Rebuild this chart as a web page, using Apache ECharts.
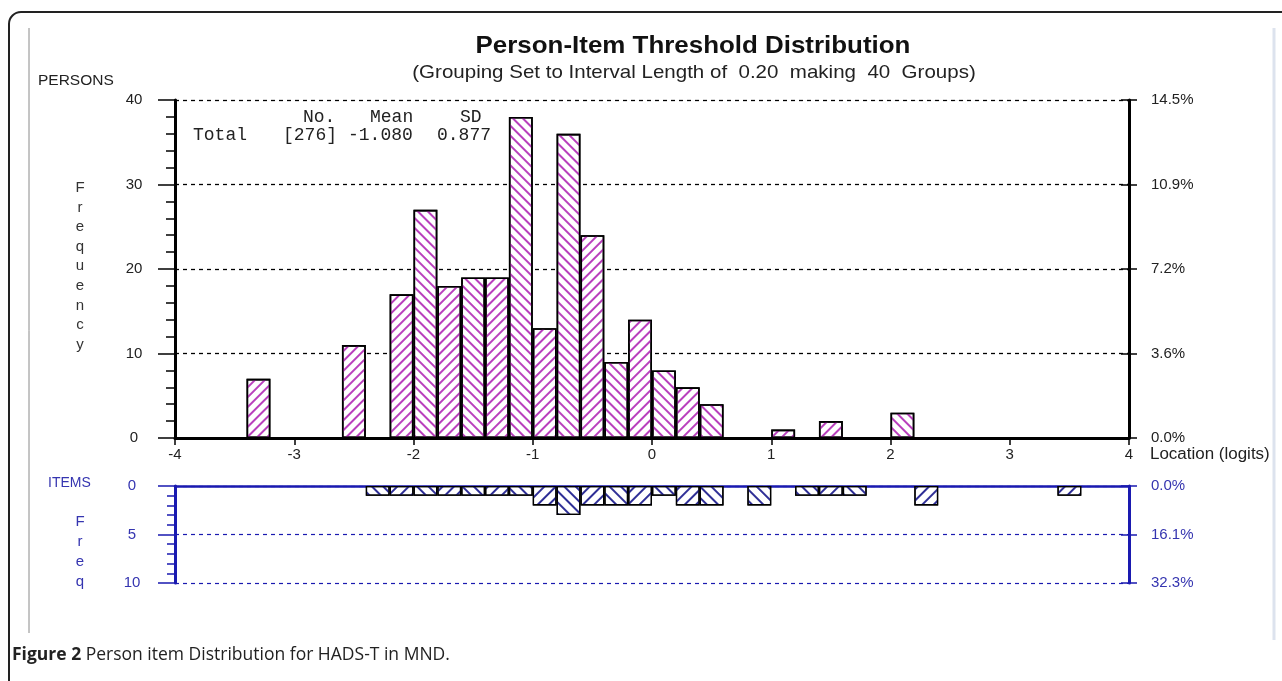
<!DOCTYPE html>
<html><head><meta charset="utf-8">
<script src="https://cdn.jsdelivr.net/npm/echarts@6/dist/echarts.min.js"></script>
<style>html,body{margin:0;padding:0;background:#fff}#c{width:1282px;height:681px}</style>
</head><body><div id="c"></div>
<script>
// 40 bins of width 0.2 logits, labelled by their lower edge
const bins = ['-4.0','-3.8','-3.6','-3.4','-3.2','-3.0','-2.8','-2.6','-2.4','-2.2',
              '-2.0','-1.8','-1.6','-1.4','-1.2','-1.0','-0.8','-0.6','-0.4','-0.2',
              '0.0','0.2','0.4','0.6','0.8','1.0','1.2','1.4','1.6','1.8',
              '2.0','2.2','2.4','2.6','2.8','3.0','3.2','3.4','3.6','3.8'];
const personsFreq = [0,0,0,7,0,0,0,11,0,17,
                     27,18,19,19,38,13,36,24,9,14,
                     8,6,4,0,0,1,0,2,0,0,
                     3,0,0,0,0,0,0,0,0,0];
const itemsFreq = [0,0,0,0,0,0,0,0,1,1,
                   1,1,1,1,1,2,3,2,2,2,
                   1,2,2,0,2,0,1,1,1,0,
                   0,2,0,0,0,0,0,1,0,0];
const xTicks = [-4,-3,-2,-1,0,1,2,3,4];
const personsTicks = [0,10,20,30,40];
const personsPct = ['0.0%','3.6%','7.2%','10.9%','14.5%'];
const itemsTicks = [0,5,10];
const itemsPct = ['0.0%','16.1%','32.3%'];
const statsHead = ['No.','Mean','SD'];
const statsRow = ['Total','[276]','-1.080','0.877'];

const MAG = '#b940bd';
const NAVY = '#2e2e96';
const BLUE = '#1a1ab0';
const BLUE_TXT = '#3535b0';

function hatch(color, i, w, gap) {
  return {symbol:'rect', symbolSize:1, dashArrayX:[1,0], dashArrayY:[w,gap],
          rotation: (i % 2) ? -Math.PI/4 : Math.PI/4, color: color};
}
function toData(arr, color, w, gap) {
  return arr.map((v,i) => v > 0 ? {value: v, itemStyle:{decal: hatch(color, i, w, gap)}} : '-');
}

const chart = echarts.init(document.getElementById('c'));
const axisFont = {fontFamily:'"Liberation Sans", Arial', fontSize:15};
const SANS = '"Liberation Sans", Arial';
const MONO = '18px "Liberation Mono", monospace';

const option = {
  animation: false,
  grid: [
    {left:175, top:100, width:954, height:338},
    {left:175, top:486, width:954, height:97}
  ],
  xAxis: [
    {type:'category', gridIndex:0, data:bins, show:false},
    {type:'value', gridIndex:0, min:-4, max:4, interval:1, position:'bottom',
     axisLine:{onZero:false, lineStyle:{color:'#000', width:3}},
     axisTick:{show:true, length:7, lineStyle:{color:'#000', width:1.5}},
     axisLabel:Object.assign({color:'#222', margin:9,
       formatter: v => String(xTicks[xTicks.indexOf(v)])}, axisFont),
     splitLine:{show:false}},
    {type:'category', gridIndex:1, data:bins, show:false},
    {type:'value', gridIndex:1, min:-4, max:4, interval:1, position:'top',
     axisLine:{onZero:false, lineStyle:{color:BLUE, width:2.5}},
     axisTick:{show:false}, axisLabel:{show:false}, splitLine:{show:false}}
  ],
  yAxis: [
    {type:'value', gridIndex:0, position:'left', min:0, max:40, interval:10,
     axisLine:{show:true, onZero:false, lineStyle:{color:'#000', width:3}},
     axisTick:{show:true, length:17, lineStyle:{color:'#000', width:1.5}},
     minorTick:{show:true, splitNumber:5, length:9, lineStyle:{color:'#000', width:1.5}},
     axisLabel:Object.assign({color:'#222', margin:41, align:'center'}, axisFont),
     splitLine:{show:true, lineStyle:{color:'#000', width:1.3, type:[4,4]}}},
    {type:'value', gridIndex:0, position:'right', min:0, max:40, interval:10,
     axisLine:{show:true, onZero:false, lineStyle:{color:'#000', width:3}},
     axisTick:{show:true, length:8, lineStyle:{color:'#000', width:1.5}},
     axisLabel:Object.assign({color:'#222', margin:22,
       formatter: v => personsPct[personsTicks.indexOf(v)]}, axisFont),
     splitLine:{show:false}},
    {type:'value', gridIndex:0, position:'right', min:0, max:40, interval:10,
     axisLine:{show:false, onZero:false},
     axisTick:{show:true, inside:true, length:8, lineStyle:{color:'#000', width:1.5}},
     axisLabel:{show:false}, splitLine:{show:false}},
    {type:'value', gridIndex:1, position:'left', inverse:true, min:0, max:10, interval:5,
     axisLine:{show:true, onZero:false, lineStyle:{color:BLUE, width:3}},
     axisTick:{show:true, length:17, lineStyle:{color:BLUE, width:1.5}},
     minorTick:{show:true, splitNumber:5, length:8, lineStyle:{color:BLUE, width:1.5}},
     axisLabel:Object.assign({color:BLUE_TXT, margin:43, align:'center'}, axisFont),
     splitLine:{show:true, lineStyle:{color:BLUE, width:1.2, type:[4,4]}}},
    {type:'value', gridIndex:1, position:'right', inverse:true, min:0, max:10, interval:5,
     axisLine:{show:true, onZero:false, lineStyle:{color:BLUE, width:3}},
     axisTick:{show:true, length:8, lineStyle:{color:BLUE, width:1.5}},
     axisLabel:Object.assign({color:BLUE_TXT, margin:22,
       formatter: v => itemsPct[itemsTicks.indexOf(v)]}, axisFont),
     splitLine:{show:false}},
    {type:'value', gridIndex:1, position:'right', inverse:true, min:0, max:10, interval:5,
     axisLine:{show:false, onZero:false},
     axisTick:{show:true, inside:true, length:8, lineStyle:{color:BLUE, width:1.5}},
     axisLabel:{show:false}, splitLine:{show:false}}
  ],
  series: [
    {type:'bar', name:'Persons', xAxisIndex:0, yAxisIndex:0, barWidth:'100%',
     data: toData(personsFreq, MAG, 1.2, 4.8),
     itemStyle:{color:'#fff', borderColor:'#000', borderWidth:1.6}},
    {type:'bar', name:'Items', xAxisIndex:2, yAxisIndex:3, barWidth:'100%',
     data: toData(itemsFreq, NAVY, 1.2, 5.6),
     itemStyle:{color:'#fff', borderColor:'#000', borderWidth:1.3}}
  ],
  graphic: [
    {type:'rect', shape:{x:9, y:12, width:1300, height:720, r:12}, silent:true,
     style:{fill:'none', stroke:'#222', lineWidth:2}},
    {type:'line', shape:{x1:29, y1:28, x2:29, y2:633}, style:{stroke:'#8a8a8a', lineWidth:1}},
    {type:'line', shape:{x1:1274, y1:28, x2:1274, y2:640}, style:{stroke:'#dde3ee', lineWidth:3}},
    {type:'text', x:693, y:46, scaleX:1.08,
     style:{text:'Person-Item Threshold Distribution', x:0, y:0,
      textAlign:'center', textVerticalAlign:'middle',
      font:'bold 24px ' + SANS, fill:'#111'}},
    {type:'text', x:694, y:73, scaleX:1.08,
     style:{text:'(Grouping Set to Interval Length of  0.20  making  40  Groups)', x:0, y:0,
      textAlign:'center', textVerticalAlign:'middle',
      font:'19px ' + SANS, fill:'#222'}},
    {type:'text', style:{text:'PERSONS', x:38, y:81, textVerticalAlign:'middle',
      font:'15.5px ' + SANS, fill:'#222'}},
    {type:'text', style:{text:'F\nr\ne\nq\nu\ne\nn\nc\ny', x:80, y:178, lineHeight:19.6,
      textAlign:'center', textVerticalAlign:'top',
      font:'15px ' + SANS, fill:'#333'}},
    {type:'text', style:{text:statsHead[0], x:303, y:117, textVerticalAlign:'middle', font:MONO, fill:'#222'}},
    {type:'text', style:{text:statsHead[1], x:370, y:117, textVerticalAlign:'middle', font:MONO, fill:'#222'}},
    {type:'text', style:{text:statsHead[2], x:460, y:117, textVerticalAlign:'middle', font:MONO, fill:'#222'}},
    {type:'text', style:{text:statsRow[0], x:193, y:135, textVerticalAlign:'middle', font:MONO, fill:'#222'}},
    {type:'text', style:{text:statsRow[1], x:283, y:135, textVerticalAlign:'middle', font:MONO, fill:'#222'}},
    {type:'text', style:{text:statsRow[2], x:348, y:135, textVerticalAlign:'middle', font:MONO, fill:'#222'}},
    {type:'text', style:{text:statsRow[3], x:437, y:135, textVerticalAlign:'middle', font:MONO, fill:'#222'}},
    {type:'text', x:1150, y:455, scaleX:1.06,
     style:{text:'Location (logits)', x:0, y:0, textVerticalAlign:'middle',
      font:'16px ' + SANS, fill:'#222'}},
    {type:'text', style:{text:'ITEMS', x:48, y:483, textVerticalAlign:'middle',
      font:'14px ' + SANS, fill:BLUE_TXT}},
    {type:'text', style:{text:'F\nr\ne\nq', x:80, y:512, lineHeight:20,
      textAlign:'center', textVerticalAlign:'top',
      font:'15px ' + SANS, fill:BLUE_TXT}},
    {type:'text', style:{text:'{b|Figure 2} Person item Distribution for HADS-T in MND.', x:12, y:655,
      textVerticalAlign:'middle', font:'17.5px "Open Sans", "Noto Sans", sans-serif', fill:'#222',
      rich:{b:{fontWeight:'bold', fontSize:17.5, fontFamily:'"Open Sans", "Noto Sans", sans-serif', fill:'#222'}}}}
  ]
};
chart.setOption(option);
</script>
</body></html>
